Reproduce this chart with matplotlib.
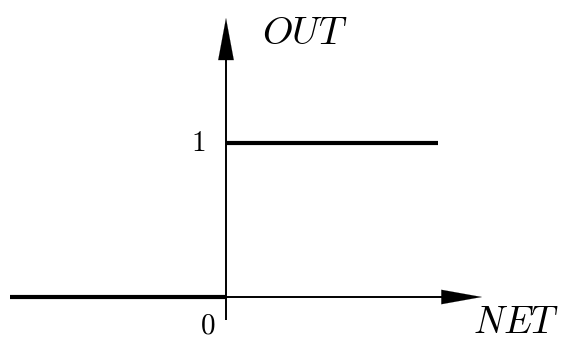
import matplotlib
matplotlib.use("Agg")
import matplotlib.pyplot as plt

plt.rcParams['mathtext.fontset'] = 'cm'

# step function data
x_left = [-1.02, 0.0]
y_left = [0, 0]
x_right = [0.0, 1.0]
y_right = [1, 1]

x_label = "NET"
y_label = "OUT"
tick_zero = "0"
tick_one = "1"

fig = plt.figure(figsize=(5.61, 3.4), dpi=100)
ax = fig.add_axes([0, 0, 1, 1])
# px -> data: x = (px-226)/212, y = (297-py)/154
ax.set_xlim((0 - 226) / 212, (561 - 226) / 212)
ax.set_ylim((297 - 340) / 154, (297 - 0) / 154)
ax.axis('off')

# axes
ax.plot([-1.02, (450 - 226) / 212], [0, 0], color='black', lw=1.4, solid_capstyle='butt')
ax.plot([0, 0], [(297 - 320) / 154, (297 - 50) / 154], color='black', lw=1.4, solid_capstyle='butt')
ax.annotate('', xy=((482 - 226) / 212, 0), xytext=((440 - 226) / 212, 0),
            arrowprops=dict(arrowstyle='-|>,head_length=2.9,head_width=0.52', color='black', lw=0.1,
                            shrinkA=0, shrinkB=0))
ax.annotate('', xy=(0, (297 - 18) / 154), xytext=(0, (297 - 62) / 154),
            arrowprops=dict(arrowstyle='-|>,head_length=3.0,head_width=0.56', color='black', lw=0.1,
                            shrinkA=0, shrinkB=0))

# step
ax.plot(x_left, y_left, color='black', lw=3.0, solid_capstyle='butt')
ax.plot(x_right, y_right, color='black', lw=3.0, solid_capstyle='butt')

ax.text((305 - 226) / 212, (297 - 33) / 154, '$' + y_label + '$', fontsize=28, ha='center', va='center')
ax.text((516 - 226) / 212, (297 - 333) / 154, '$' + x_label + '$', fontsize=27, ha='center', va='baseline')
ax.text((198 - 226) / 212, 1, '$' + tick_one + '$', fontsize=21, ha='center', va='center')
ax.text((208 - 226) / 212, (297 - 326) / 154, '$' + tick_zero + '$', fontsize=21, ha='center', va='center')

fig.savefig('out.png', dpi=100)
